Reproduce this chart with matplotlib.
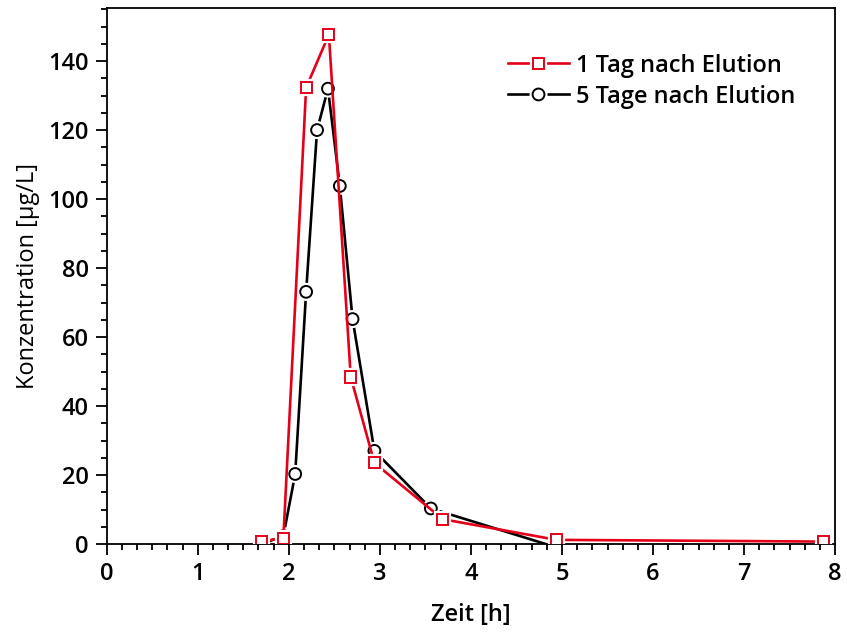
import matplotlib
matplotlib.use("Agg")
import matplotlib.pyplot as plt
import matplotlib.patheffects as pe
from matplotlib.ticker import MultipleLocator

# 1 Tag nach Elution
t_tag1 = [1.70, 1.94, 2.19, 2.44, 2.68, 2.94, 3.69, 4.94, 7.87]
c_tag1 = [0.8, 1.7, 132.3, 147.7, 48.4, 23.5, 7.2, 1.2, 0.7]

# 5 Tage nach Elution (first and last points have no marker)
t_tag5 = [1.70, 1.94, 2.07, 2.19, 2.31, 2.43, 2.56, 2.70, 2.94, 3.56, 4.82]
c_tag5 = [0.0, 2.3, 20.3, 73.1, 120.0, 132.0, 103.8, 65.2, 27.0, 10.3, 0.0]

red = "#e5001a"

plt.rcParams["font.family"] = ["Open Sans", "DejaVu Sans"]

fig = plt.figure(figsize=(8.47, 6.37), dpi=100)
ax = fig.add_axes([0.126, 0.146, 0.86, 0.841])

halo = [pe.Stroke(linewidth=4.5, foreground="white"), pe.Normal()]

l1, = ax.plot(t_tag1, c_tag1, color=red, lw=1.9, zorder=3)
m1, = ax.plot(t_tag1, c_tag1, ls="none", marker="s", ms=8, mfc="white",
              mec=red, mew=1.4, zorder=4, path_effects=halo)

l5, = ax.plot(t_tag5, c_tag5, color="black", lw=1.9, zorder=2)
m5, = ax.plot(t_tag5[1:-1], c_tag5[1:-1], ls="none", marker="o", ms=8.5,
              mfc="white", mec="black", mew=1.4, zorder=2.5, path_effects=halo)

ax.set_xlim(0, 8)
ax.set_ylim(0, 155.3)
ax.xaxis.set_major_locator(MultipleLocator(1))
ax.xaxis.set_minor_locator(MultipleLocator(1 / 6))
ax.yaxis.set_major_locator(MultipleLocator(20))
ax.yaxis.set_minor_locator(MultipleLocator(5))

for s in ax.spines.values():
    s.set_linewidth(1.3)
ax.tick_params(which="major", direction="out", length=8, width=1.3,
               labelsize=17, pad=5)
ax.tick_params(which="minor", direction="out", length=4.3, width=1.3)
ax.tick_params(top=False, right=False, which="both")
for lab in ax.get_xticklabels() + ax.get_yticklabels():
    lab.set_fontweight("semibold")

ax.set_xlabel("Zeit [h]", fontsize=17, fontweight="semibold", labelpad=12)
ax.set_ylabel("Konzentration [µg/L]", fontsize=17, labelpad=6)

ax.legend([(l1, m1), (l5, m5)], ["1 Tag nach Elution", "5 Tage nach Elution"],
          loc="upper right", bbox_to_anchor=(0.975, 0.955), frameon=False,
          prop={"size": 17, "weight": "semibold"}, handlelength=2.6,
          handletextpad=0.3, labelspacing=0.3)

fig.savefig("out.png", dpi=100)
